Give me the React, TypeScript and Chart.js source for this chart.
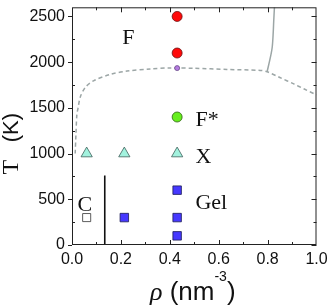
import React, { useEffect, useRef } from 'react';
import { Chart, registerables } from 'chart.js';

Chart.register(...registerables);

// Dashed phase boundary (rho in nm^-3, T in K)
const boundaryRho = [0.013, 0.016, 0.02, 0.025, 0.034, 0.055, 0.088, 0.157, 0.225, 0.32, 0.4, 0.5, 0.634, 0.77, 0.798, 0.85, 0.907, 0.95, 1.0];
const boundaryT = [1000, 1200, 1430, 1500, 1620, 1726, 1796, 1867, 1902, 1926, 1937, 1933, 1920, 1910, 1895, 1832, 1762, 1706, 1642];

// Solid line
const solidRho = [0.798, 0.812, 0.819, 0.823, 0.825, 0.828];
const solidT = [1895, 2060, 2166, 2324, 2448, 2600];

// Vertical black line
const vlineRho = [0.134, 0.134];
const vlineT = [0, 760];

// State points
const fluidRho = [0.43, 0.43];
const fluidT = [2500, 2100];
const purpleRho = [0.43];
const purpleT = [1935];
const fStarRho = [0.43];
const fStarT = [1400];
const xRho = [0.06, 0.214, 0.43];
const xT = [1000, 1000, 1000];
const gelRho = [0.214, 0.43, 0.43, 0.43];
const gelT = [300, 600, 300, 100];
const cRho = [0.06];
const cT = [300];

// Region labels (left edge rho, baseline T)
const regionLabels = ['F', 'F*', 'X', 'Gel', 'C'];
const regionRho = [0.206, 0.505, 0.505, 0.505, 0.022];
const regionT = [2197, 1301, 900, 394, 373];

const xMin = 0;
const xMax = 1;
const yMin = 0;
const yMax = 2600;

const pts = (xs: number[], ys: number[]) => xs.map((x, i) => ({ x, y: ys[i] }));

const SANS = '"Liberation Sans", Arial, sans-serif';
const SERIF = '"Liberation Serif", "Times New Roman", serif';

const decorPlugin = {
  id: 'decor',
  afterDraw(chart: any) {
    const ctx = chart.ctx as CanvasRenderingContext2D;
    const ca = chart.chartArea;
    const xs = chart.scales.x;
    const ys = chart.scales.y;
    ctx.save();
    // frame
    ctx.strokeStyle = '#222';
    ctx.lineWidth = 1;
    ctx.strokeRect(ca.left + 0.5, ca.top + 0.5, ca.right - ca.left - 1, ca.bottom - ca.top - 1);
    // x ticks
    ctx.beginPath();
    xs.ticks.forEach((t: any) => {
      const v = t.value;
      if (v <= xMin + 1e-6 || v >= xMax - 1e-6) return;
      const major = Math.round(v * 10) % 2 === 0;
      const len = major ? 5 : 3;
      const px = Math.round(xs.getPixelForValue(v)) + 0.5;
      ctx.moveTo(px, ca.bottom);
      ctx.lineTo(px, ca.bottom - len);
      ctx.moveTo(px, ca.top);
      ctx.lineTo(px, ca.top + len);
    });
    // y ticks
    ys.ticks.forEach((t: any) => {
      const v = t.value;
      if (v % 250 !== 0) return;
      const major = v % 500 === 0;
      const py = Math.round(ys.getPixelForValue(v)) + 0.5;
      if (major) {
        ctx.moveTo(ca.left, py);
        ctx.lineTo(ca.left - 4, py);
        ctx.moveTo(ca.right, py);
        ctx.lineTo(ca.right - 5, py);
      } else {
        ctx.moveTo(ca.left, py);
        ctx.lineTo(ca.left + 3, py);
        ctx.moveTo(ca.right, py);
        ctx.lineTo(ca.right - 3, py);
      }
    });
    ctx.stroke();

    // region labels
    ctx.fillStyle = '#111';
    ctx.font = '22px ' + SERIF;
    ctx.textAlign = 'left';
    ctx.textBaseline = 'alphabetic';
    regionLabels.forEach((lab, i) => {
      ctx.fillText(lab, xs.getPixelForValue(regionRho[i]), ys.getPixelForValue(regionT[i]));
    });

    // y title (rotated)
    const cy = (ca.top + ca.bottom) / 2;
    ctx.save();
    ctx.translate(18, 0);
    ctx.rotate(-Math.PI / 2);
    ctx.textAlign = 'center';
    ctx.font = '24px ' + SERIF;
    ctx.fillText('T', -(cy + 41), 0);
    ctx.font = '22px ' + SANS;
    ctx.fillText('(K)', -(cy + 1.5), 0);
    ctx.restore();

    // x title
    const base = 300;
    ctx.textAlign = 'left';
    const rhoFont = 'italic 26px ' + SERIF;
    const mainFont = '26px ' + SANS;
    const supFont = '14px ' + SANS;
    ctx.font = rhoFont;
    const wRho = ctx.measureText('\u03C1').width;
    ctx.font = mainFont;
    const wOpen = ctx.measureText(' (nm').width;
    const wClose = ctx.measureText(')').width;
    ctx.font = supFont;
    const wSup = ctx.measureText('-3').width;
    const total = wRho + wOpen + wSup + wClose;
    let x = (ca.left + ca.right) / 2 - 1.5 - total / 2;
    ctx.font = rhoFont;
    ctx.fillText('\u03C1', x, base);
    x += wRho;
    ctx.font = mainFont;
    ctx.fillText(' (nm', x, base);
    x += wOpen;
    ctx.font = supFont;
    ctx.fillText('-3', x, base - 19);
    x += wSup;
    ctx.font = mainFont;
    ctx.fillText(')', x, base);
    ctx.restore();
  },
};

export default function App() {
  const ref = useRef<HTMLCanvasElement | null>(null);
  useEffect(() => {
    document.body.style.margin = '0';
    if (!ref.current) return;
    const marker = (label: string, data: any[], style: any, bg: string, border: string, r: number) => ({
      label,
      data,
      showLine: false,
      pointStyle: style,
      pointRadius: r,
      pointBackgroundColor: bg,
      pointBorderColor: border,
      pointBorderWidth: 0.8,
      order: 1,
    });
    const chart = new Chart(ref.current, {
      type: 'scatter',
      data: {
        datasets: [
          marker('F', pts(fluidRho, fluidT), 'circle', '#ff0a0a', '#6a1010', 5),
          marker('boundary', pts(purpleRho, purpleT), 'circle', '#b57ce0', '#6a4a8a', 2.5),
          marker('F*', pts(fStarRho, fStarT), 'circle', '#66ee1e', '#2f5f12', 5),
          marker('X', pts(xRho, xT), 'triangle', '#a2f2de', '#3f5f5a', 6.5),
          marker('Gel', pts(gelRho, gelT), 'rect', '#4638ff', '#1a1a55', 6),
          marker('C', pts(cRho, cT), 'rect', '#ffffff', '#333333', 5.7),
          {
            label: 'dashed',
            data: pts(boundaryRho, boundaryT),
            showLine: true,
            borderColor: '#9ca6a6',
            borderWidth: 1.5,
            borderDash: [4, 3],
            pointRadius: 0,
            tension: 0.3,
            order: 2,
          },
          {
            label: 'solid',
            data: pts(solidRho, solidT),
            showLine: true,
            borderColor: '#9ca6a6',
            borderWidth: 1.5,
            pointRadius: 0,
            tension: 0.3,
            order: 2,
          },
          {
            label: 'vline',
            data: pts(vlineRho, vlineT),
            showLine: true,
            borderColor: '#111',
            borderWidth: 1.6,
            pointRadius: 0,
            order: 2,
          },
        ],
      },
      options: {
        animation: false,
        responsive: true,
        maintainAspectRatio: false,
        layout: { padding: { top: 0, right: 10.5, left: 0, bottom: 0 } },
        plugins: { legend: { display: false }, tooltip: { enabled: false } },
        scales: {
          x: {
            type: 'linear',
            min: xMin,
            max: xMax,
            grid: { display: false, drawTicks: false },
            border: { display: false },
            ticks: {
              stepSize: 0.1,
              padding: 5,
              color: '#111',
              font: { family: SANS, size: 16 },
              maxRotation: 0,
              autoSkip: false,
              callback: (v: any) => {
                const n = Math.round(Number(v) * 10);
                return n % 2 === 0 ? (n / 10).toFixed(1) : '';
              },
            },
            afterFit: (s: any) => {
              s.height = 62;
              s.paddingLeft = 0;
              s.paddingRight = 0;
            },
          },
          y: {
            type: 'linear',
            min: yMin,
            max: yMax,
            grid: { display: false, drawTicks: false },
            border: { display: false },
            ticks: {
              stepSize: 250,
              includeBounds: false,
              padding: 7,
              color: '#111',
              font: { family: SANS, size: 16 },
              autoSkip: false,
              callback: (v: any) => (Number(v) % 500 === 0 ? String(v) : ''),
            },
            afterFit: (s: any) => {
              s.width = 72;
              s.paddingTop = 0;
              s.paddingBottom = 0;
            },
          },
        },
      },
      plugins: [decorPlugin],
    });
    return () => chart.destroy();
  }, []);
  return (
    <div style={{ width: 327, height: 307, position: 'relative', background: '#fff' }}>
      <canvas ref={ref} />
    </div>
  );
}
